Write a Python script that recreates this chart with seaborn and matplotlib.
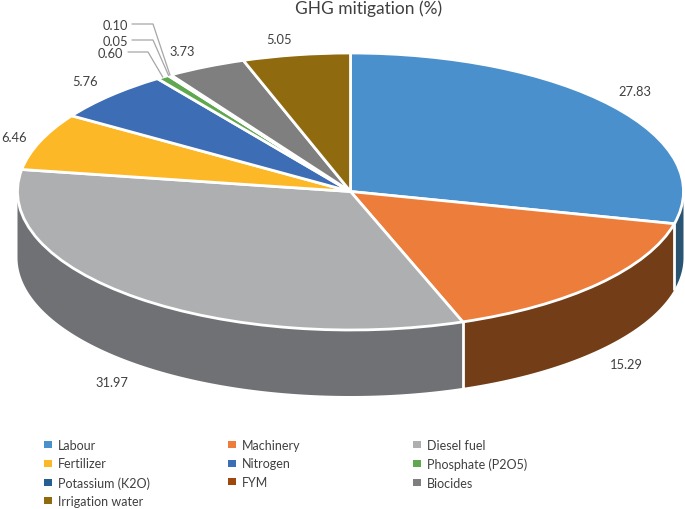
import numpy as np
import matplotlib
matplotlib.use("Agg")
import matplotlib.pyplot as plt
from matplotlib.patches import Patch
import seaborn as sns

# ---- data ----
categories = ["Labour", "Machinery", "Diesel fuel", "Fertilizer", "Nitrogen",
              "Phosphate (P2O5)", "Potassium (K2O)", "FYM", "Biocides", "Irrigation water"]
values = [27.83, 15.29, 31.97, 6.46, 5.76, 0.60, 0.05, 0.10, 3.73, 5.05]
value_labels = ["27.83", "15.29", "31.97", "6.46", "5.76", "0.60", "0.05", "0.10", "3.73", "5.05"]
top_colors = ["#4A90CC", "#ED7D3B", "#AEAFB1", "#FDB827", "#3D6DB5",
              "#5FA84F", "#255E91", "#9E480E", "#7F7F7F", "#8F6A0E"]
wall_colors = ["#2A5472", "#723D17", "#6F7174", "#94701A", "#24406E",
               "#38632E", "#163755", "#5D2A08", "#4B4B4B", "#543E08"]
title = "GHG mitigation (%)"

# ---- layout (pixels) ----
W, H = 685, 510
CX, CY, RX, RY, DEPTH = 350.5, 192.5, 333, 138.5, 66
label_px = [(635, 92), (626, 365), (112, 383), (13.5, 138), (85, 82),
            (110, 54), (115, 42), (115, 26), (182, 52), (279, 40)]
leaders = {5: [(128, 53), (148, 53)], 6: [(132, 41), (153, 41)], 7: [(132, 25), (153, 25)]}
legend_cols = [(44, [0, 3, 6, 9]), (228, [1, 4, 7]), (413, [2, 5, 8])]
LEGEND_TOP = 440

sns.set_theme(style="white")
plt.rcParams["font.family"] = ["Lato", "DejaVu Sans"]
TXT = "#404040"


def dx(px):
    return (px - CX) / RX


def dy(py):
    return (CY - py) / RY


fig = plt.figure(figsize=(W / 100, H / 100), dpi=100, facecolor="white")
ax = fig.add_axes([0, 0, 1, 1])

palette = sns.color_palette(top_colors)
ax.pie(values, colors=palette, startangle=90, counterclock=False, radius=1,
       wedgeprops=dict(edgecolor="white", linewidth=2, zorder=5))
ax.set_aspect("auto")
ax.set_xlim(dx(0), dx(W))
ax.set_ylim(dy(H), dy(0))
ax.axis("off")

# extruded wall of the pie, derived from the values
depth = DEPTH / RY
cum = np.concatenate([[0], np.cumsum(values)]) / np.sum(values)
angles = 90 - 360 * cum  # degrees, clockwise from the top
for i, colour in enumerate(wall_colors):
    a0, a1 = angles[i], angles[i + 1]
    lo, hi = max(a1, -180), min(a0, 0)
    if hi <= lo:
        continue
    t = np.radians(np.linspace(hi, lo, 120))
    xs = np.cos(t)
    ys = np.sin(t)
    ax.fill(np.r_[xs, xs[::-1]], np.r_[ys, ys[::-1] - depth], color=colour, lw=0, zorder=2)
    if -180 < a1 < 0:
        x, y = np.cos(np.radians(a1)), np.sin(np.radians(a1))
        ax.plot([x, x], [y, y - depth], color="white", lw=2, zorder=3, solid_capstyle="butt")

# value labels
for (px, py), s in zip(label_px, value_labels):
    ax.text(dx(px), dy(py), s, ha="center", va="center", fontsize=9.3, color=TXT, zorder=8)

# leader lines to the thin slices
for i, pts in leaders.items():
    mid = np.radians((angles[i] + angles[i + 1]) / 2)
    xs = [dx(p[0]) for p in pts] + [np.cos(mid)]
    ys = [dy(p[1]) for p in pts] + [np.sin(mid)]
    ax.plot(xs, ys, color="#A6A6A6", lw=0.9, zorder=7)

ax.text(dx(368.5), dy(9), title, ha="center", va="center", fontsize=12.5, color=TXT)

# legend: three independent columns, reading row by row
for left, idx in legend_cols:
    handles = [Patch(facecolor=top_colors[i], edgecolor="none") for i in idx]
    leg = fig.legend(handles, [categories[i] for i in idx],
                     loc="upper left", bbox_to_anchor=(left / W, 1 - LEGEND_TOP / H),
                     frameon=False, fontsize=9, ncols=1, borderpad=0, borderaxespad=0,
                     handlelength=0.64, handleheight=0.48, handletextpad=0.48,
                     labelspacing=0.52, labelcolor=TXT)

fig.savefig("out.png", dpi=100, facecolor="white")
